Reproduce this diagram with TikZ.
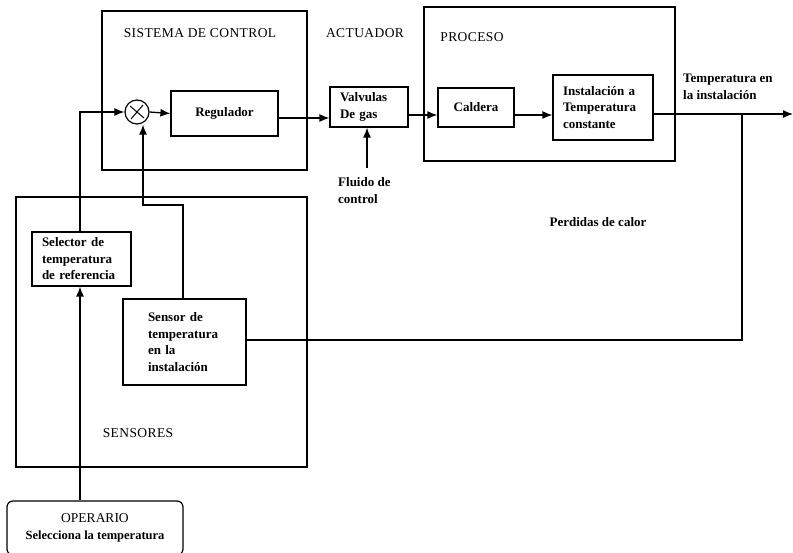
\documentclass[tikz,border=0pt]{standalone}
\usepackage{fontspec}
\setmainfont{Liberation Serif}
\usetikzlibrary{arrows.meta,calc}
\begin{document}
\begin{tikzpicture}[x=1pt,y=-1pt,
  box/.style={draw,line width=1.2pt},
  blk/.style={draw,line width=1.2pt,align=left,font=\fontsize{13}{16.5}\selectfont\bfseries},
  lbl/.style={align=left,font=\fontsize{13}{17}\selectfont\bfseries,inner sep=0pt},
  ttl/.style={font=\fontsize{13.5}{15}\selectfont\addfontfeatures{LetterSpace=3},inner sep=0pt},
  arr/.style={line width=1.3pt,-{Latex[length=10pt,width=8pt]}},
  ln/.style={line width=1.3pt}]
\useasboundingbox (0,0) rectangle (793,553);
\fill[white] (0,0) rectangle (793,553);
% group frames
\node[box,minimum width=205,minimum height=159,inner sep=0] (ctrl) at (204.5,90.5) {};
\node[box,minimum width=251,minimum height=154,inner sep=0] (proc) at (549.5,84) {};
\node[box,minimum width=291,minimum height=270,inner sep=0] (sens) at (161.5,332) {};
% titles
\node[ttl] (t1) at (200,33) {SISTEMA DE CONTROL};
\node[ttl] (t2) at (365,33) {ACTUADOR};
\node[ttl] (t3) at (472,37) {PROCESO};
\node[ttl] (t4) at (138,433) {SENSORES};
% blocks
\node[circle,draw,line width=1.2pt,minimum size=24,inner sep=0] (sum) at (137,112) {};
\draw[line width=1pt] ($(sum.center)+(-7,-6)$) -- ($(sum.center)+(7,6)$);
\draw[line width=1pt] ($(sum.center)+(-6,7)$) -- ($(sum.center)+(6,-7)$);
\node[blk,minimum width=107,minimum height=45,inner sep=0] (reg) at (224.5,113.5) {Regulador};
\node[blk,minimum height=40,inner xsep=10pt,inner ysep=2pt,text width=58] (val) at (369,107) {Valvulas\\De gas};
\node[blk,minimum width=76,minimum height=39,inner sep=0] (cal) at (476,107.5) {Caldera};
\node[blk,minimum height=65,inner xsep=10pt,inner ysep=2pt,text width=80] (ins) at (603,107.5) {Instalación a\\Temperatura\\constante};
\node[blk,minimum height=54,inner xsep=10pt,inner ysep=2pt,text width=79] (sel) at (81.5,259) {Selector de\\temperatura\\de referencia};
\node[blk,minimum height=86,inner xsep=25pt,inner ysep=2pt,text width=73] (sen) at (184.5,342) {Sensor de\\temperatura\\en la\\instalación};
\node[draw,line width=1.2pt,rounded corners=6pt,minimum width=176,minimum height=54,inner sep=0,align=center,font=\fontsize{12.5}{17}\selectfont\bfseries] (op) at (95,528) {{\fontsize{13.5}{15}\selectfont\mdseries OPERARIO}\\Selecciona la temperatura};
% labels
\node[lbl,anchor=west] (fl) at (338,191) {Fluido de\\control};
\node[lbl,anchor=west] (te) at (683,87) {Temperatura en\\la instalación};
\node[lbl] (pc) at (598,222) {Perdidas de calor};
% connectors
\coordinate (ext) at (793,114);
\coordinate (br) at (742,114);
\coordinate (brd) at (742,340);
\coordinate (fls) at (367,168);
\coordinate (xa) at (80,0);
\coordinate (xb) at (183,0);
\coordinate (xc) at (143,0);
\coordinate (ya) at (0,118);
\coordinate (yb) at (0,115);
\coordinate (c1) at (80,112);
\coordinate (c2) at (183,205);
\coordinate (c3) at (143,205);
\draw[arr] (sum.east) -- (reg.west);
\draw[arr] (reg.east |- ya) -- (val.west |- ya);
\draw[arr] (val.east |- yb) -- (cal.west |- yb);
\draw[arr] (cal.east |- yb) -- (ins.west |- yb);
\draw[arr] (ins.east |- ext) -- (ext);
\draw[ln] (br) -- (brd) -- (sen.east |- brd);
\draw[arr] (fls) -- (fls |- val.south);
\draw[arr] (sel.north -| xa) -- (c1) -- (sum.west);
\draw[arr] (sen.north -| xb) -- (c2) -- (c3) -- (sum.south -| xc);
\draw[arr] (op.north -| xa) -- (sel.south -| xa);
\end{tikzpicture}
\end{document}
